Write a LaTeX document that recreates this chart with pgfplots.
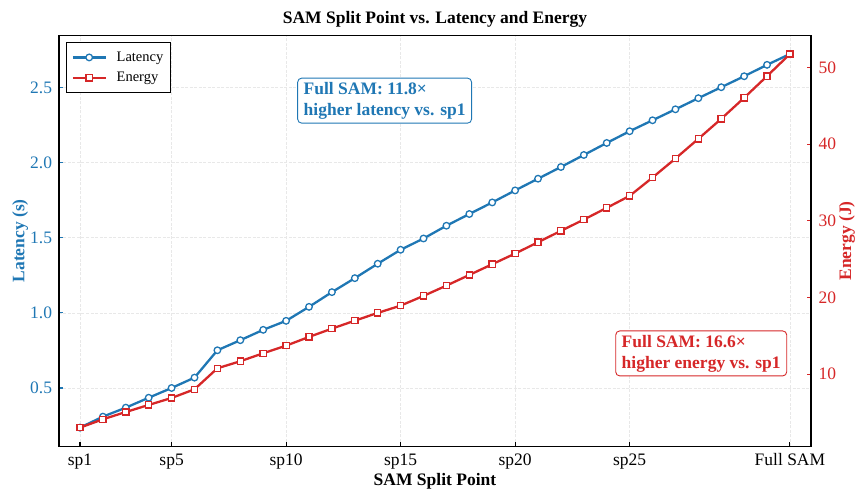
\documentclass[border=0pt]{standalone}
\usepackage{fontspec}
\setmainfont{Liberation Serif}
\usepackage{pgfplots}
\usepackage{pgfplotstable}
\pgfplotsset{compat=1.18}
\definecolor{latblue}{HTML}{1F77B4}
\definecolor{enred}{HTML}{D62728}
\newcommand\fbig{\fontsize{17.5}{21}\selectfont}
\newcommand\fleg{\fontsize{14.5}{17}\selectfont}

% split index, latency (s), energy (J)
\pgfplotstableread{
idx lat energy
1 0.236 3.04
2 0.309 4.13
3 0.369 5.08
4 0.435 6.00
5 0.500 6.91
6 0.569 8.04
7 0.751 10.78
8 0.818 11.70
9 0.887 12.74
10 0.947 13.73
11 1.040 14.87
12 1.138 15.95
13 1.231 16.99
14 1.327 18.00
15 1.420 18.95
16 1.495 20.22
17 1.580 21.56
18 1.658 22.95
19 1.735 24.35
20 1.815 25.74
21 1.893 27.22
22 1.971 28.70
23 2.051 30.17
24 2.131 31.70
25 2.209 33.26
26 2.282 35.65
27 2.355 38.13
28 2.429 40.70
29 2.502 43.31
30 2.575 46.05
31 2.651 48.88
32 2.723 51.76
}\splitdata

\pgfplotsset{
  base/.style={
    at={(0,0)}, anchor=south west,
    scale only axis, width=752pt, height=411pt,
    xmin=0.083, xmax=32.92,
    axis line style={line width=1.5pt},
    tick align=inside,
    major tick length=4.5pt,
    every tick/.style={line width=1.1pt},
    /pgf/number format/assume math mode=true,
    tick label style={font=\fbig},
  },
  latstyle/.style={latblue, line width=2.3pt, mark=*, mark size=3.3pt,
    mark options={fill=white, draw=latblue, line width=1.3pt}},
  enstyle/.style={enred, line width=2.3pt, mark=square*, mark size=3.1pt,
    mark options={fill=white, draw=enred, line width=1.3pt}},
}

\begin{document}
\begin{tikzpicture}
\useasboundingbox (-59pt,-43.7pt) rectangle (797pt,446.3pt);
\begin{axis}[base,
  ymin=0.1117, ymax=2.8476,
  xtick={1,5,10,15,20,25,32},
  xticklabels={sp1,sp5,sp10,sp15,sp20,sp25,Full SAM},
  xtick pos=left, ytick pos=left,
  ytick={0.5,1.0,1.5,2.0,2.5},
  yticklabel style={color=latblue, anchor=east, inner sep=0pt, xshift=-6.7pt,
    /pgf/number format/.cd, fixed, fixed zerofill, precision=1},
  y tick style={color=latblue},
  xticklabel style={anchor=base, inner sep=0pt, yshift=-18.7pt},
  grid=major,
  major grid style={gray!18, line width=0.6pt, dash pattern=on 3pt off 1.5pt},
  title={\textbf{SAM Split Point vs. Latency and Energy}},
  title style={font=\fbig, at={(0.5,1)}, anchor=south, inner sep=0pt, yshift=2pt},
  xlabel={\textbf{SAM Split Point}},
  xlabel style={font=\fbig, at={(axis description cs:0.5,0)}, anchor=base, inner sep=0pt, yshift=-38.7pt},
  ylabel={\textbf{Latency (s)}},
  ylabel style={font=\fbig, color=latblue, at={(axis description cs:0,0.5)}, anchor=base, inner sep=0pt, yshift=34.7pt},
]
\addplot[latstyle] table[x=idx, y=lat] {\splitdata};
\end{axis}
\begin{axis}[base,
  ymin=0.607, ymax=54.2,
  axis y line*=right, axis x line=none,
  ytick={10,20,30,40,50},
  yticklabel style={color=enred, anchor=west, inner sep=0pt, xshift=7.5pt},
  y tick style={color=enred},
  ylabel={\textbf{Energy (J)}},
  ylabel style={font=\fbig, color=enred, at={(axis description cs:1,0.5)}, anchor=base, inner sep=0pt, yshift=-40pt},
  legend style={at={(0,1)}, anchor=north west, xshift=7.3pt, yshift=-7.2pt,
    draw=black, line width=0.9pt, font=\fleg, fill=white,
    inner xsep=5pt, inner ysep=7pt, row sep=5.5pt,
    nodes={inner sep=2pt},
    /tikz/every odd column/.append style={column sep=8pt}},
  legend cell align=left,
  legend image code/.code={
    \draw[mark repeat=2, mark phase=2] plot coordinates {(0pt,0pt) (16.3pt,0pt) (32.6pt,0pt)};},
]
\addlegendimage{latstyle}
\addlegendentry{Latency}
\addplot[enstyle] table[x=idx, y=energy] {\splitdata};
\addlegendentry{Energy}
\node[draw=latblue, fill=white, rounded corners=4pt, line width=0.9pt, text=latblue,
  font=\fbig\bfseries, align=left, inner xsep=6pt, inner ysep=4pt]
  at (rel axis cs:0.433,0.841) {Full SAM: 11.8×\\higher latency vs. sp1};
\node[draw=enred, fill=white, rounded corners=4pt, line width=0.9pt, text=enred,
  font=\fbig\bfseries, align=left, inner xsep=6pt, inner ysep=4pt]
  at (rel axis cs:0.854,0.226) {Full SAM: 16.6×\\higher energy vs. sp1};
\end{axis}
\end{tikzpicture}
\end{document}
